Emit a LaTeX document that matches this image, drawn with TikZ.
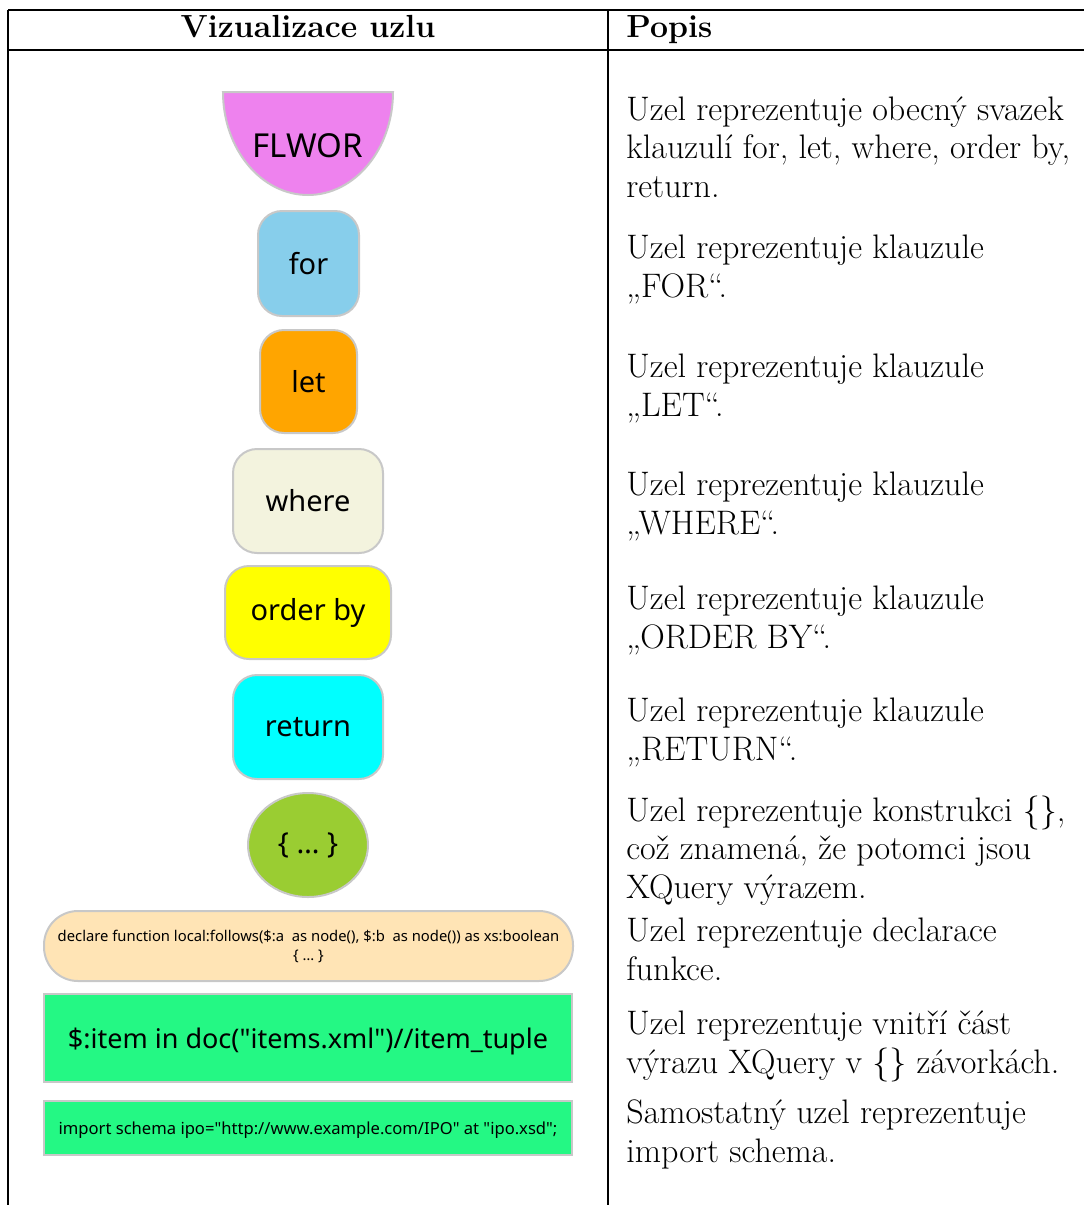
\documentclass[tikz,border=0pt]{standalone}
\usepackage{fontspec}
\setmainfont{Latin Modern Roman}
\newfontfamily\uzelfont{Noto Sans}
\usetikzlibrary{positioning,shapes.geometric}

\definecolor{okraj}{HTML}{C8C8C8}
\definecolor{cflwor}{HTML}{EE82EE}
\definecolor{cfor}{HTML}{87CEEB}
\definecolor{clet}{HTML}{FFA500}
\definecolor{cwhere}{HTML}{F3F3DE}
\definecolor{corder}{HTML}{FFFF00}
\definecolor{creturn}{HTML}{00FFFF}
\definecolor{cblok}{HTML}{9ACD32}
\definecolor{cdekl}{HTML}{FFE4B5}
\definecolor{cvyraz}{HTML}{24F884}

\tikzset{
  uzel/.style={draw=okraj,line width=1pt,rounded corners=12pt,inner sep=0pt,
    font=\uzelfont\fontsize{14.5}{17}\selectfont},
  popis/.style={anchor=base west,align=left,inner sep=0pt,
    font=\fontsize{17}{19.25}\selectfont},
  mrizka/.style={line width=0.8pt}
}

\begin{document}
\begin{tikzpicture}[x=0.5pt,y=-0.5pt]
  \useasboundingbox (0,0) rectangle (1084,1205);
  % tabulka
  \draw[mrizka] (8,10) -- (1084,10);
  \draw[mrizka] (8,50) -- (1084,50);
  \draw[mrizka] (8,10) -- (8,1205);
  \draw[mrizka] (608,10) -- (608,1205);
  \node[anchor=base,inner sep=0pt,font=\fontsize{16}{19.3}\selectfont\bfseries] (h1) at (308,37) {Vizualizace uzlu};
  \node[anchor=base west,inner sep=0pt,font=\fontsize{16}{19.3}\selectfont\bfseries] (h2) at (626,37) {Popis};

  % uzly
  \draw[draw=okraj,fill=cflwor,line width=1pt] (223,92) -- (393,92)
    arc[start angle=0,end angle=-180,x radius=42.5pt,y radius=51.5pt] -- cycle;
  \node[inner sep=0pt,font=\uzelfont\fontsize{16.5}{19}\selectfont] (flwor) at (308,146) {FLWOR};
  \node[uzel,fill=cfor,minimum width=50.5pt,minimum height=52.5pt] (for) at (308.5,263.5) {for};
  \node[uzel,fill=clet,minimum width=48.5pt,minimum height=51.5pt] (let) at (308.5,381.5) {let};
  \node[uzel,fill=cwhere,minimum width=75pt,minimum height=52pt] (where) at (308,501) {where};
  \node[uzel,fill=corder,minimum width=83pt,minimum height=46.5pt] (order) at (308,612.5) {order by};
  \node[uzel,fill=creturn,minimum width=75pt,minimum height=52pt] (return) at (308,727) {return};
  \node[uzel,shape=ellipse,fill=cblok,minimum width=60pt,minimum height=52pt] (blok) at (308,845) {\{ … \}};
  \node[uzel,fill=cdekl,rounded corners=17pt,minimum width=264.5pt,minimum height=35pt,align=center,
    font=\uzelfont\fontsize{7.4}{9.5}\selectfont] (dekl) at (308.5,946)
    {declare function local:follows(\$:a\ \ as node(), \$:b\ \ as node()) as xs:boolean\\\{ … \}};
  \node[uzel,fill=cvyraz,rounded corners=0pt,minimum width=264pt,minimum height=44pt,
    text depth=0pt,font=\uzelfont\fontsize{13.5}{16}\selectfont] (vyraz) at (308,1038)
    {\$:item in doc("items.xml")//item\_tuple};
  \node[uzel,fill=cvyraz,rounded corners=0pt,minimum width=264pt,minimum height=27pt,
    text depth=0pt,font=\uzelfont\fontsize{8.3}{10}\selectfont] (import) at (308,1128)
    {import schema ipo="http://www.example.com/IPO" at "ipo.xsd";};

  % popisy
  \node[popis] (p1) at (626,197) {Uzel reprezentuje obecný svazek\\klauzulí for, let, where, order by,\\return.};
  \node[popis] (p2) at (626,297) {Uzel reprezentuje klauzule\\„FOR“.};
  \node[popis] (p3) at (626,416) {Uzel reprezentuje klauzule\\„LET“.};
  \node[popis] (p4) at (626,534) {Uzel reprezentuje klauzule\\„WHERE“.};
  \node[popis] (p5) at (626,648) {Uzel reprezentuje klauzule\\„ORDER BY“.};
  \node[popis] (p6) at (626,760) {Uzel reprezentuje klauzule\\„RETURN“.};
  \node[popis] (p7) at (626,898) {Uzel reprezentuje konstrukci \{\},\\což znamená, že potomci jsou\\XQuery výrazem.};
  \node[popis] (p8) at (626,980) {Uzel reprezentuje declarace\\funkce.};
  \node[popis] (p9) at (626,1073) {Uzel reprezentuje vnitří část\\výrazu XQuery v \{\} závorkách.};
  \node[popis] (p10) at (626,1162) {Samostatný uzel reprezentuje\\import schema.};
\end{tikzpicture}
\end{document}
